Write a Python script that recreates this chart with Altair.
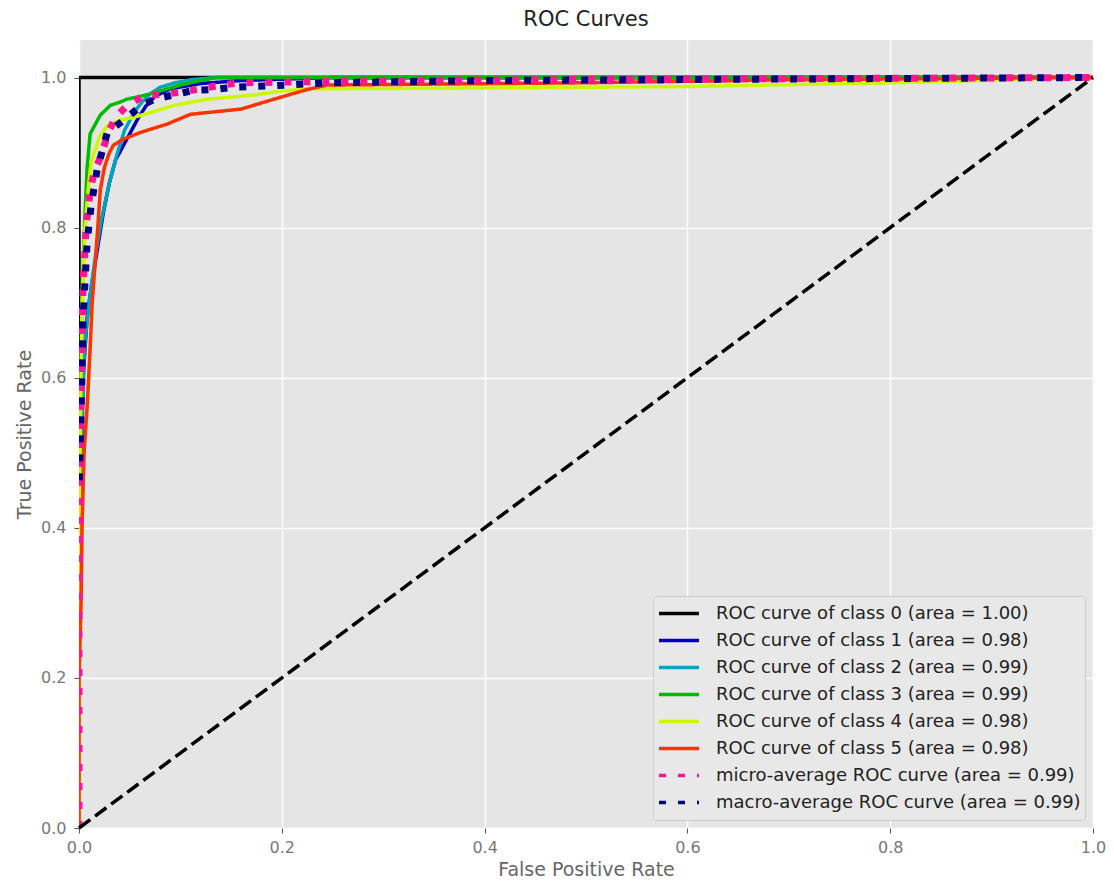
import altair as alt
import pandas as pd

labels = [
    "ROC curve of class 0 (area = 1.00)",
    "ROC curve of class 1 (area = 0.98)",
    "ROC curve of class 2 (area = 0.99)",
    "ROC curve of class 3 (area = 0.99)",
    "ROC curve of class 4 (area = 0.98)",
    "ROC curve of class 5 (area = 0.98)",
    "micro-average ROC curve (area = 0.99)",
    "macro-average ROC curve (area = 0.99)",
]
colors = ["#000000", "#0000BB", "#00A4BB", "#00BB00", "#CCF900", "#FF3300", "#FF1493", "#000080"]

c0_fpr = [0.0, 0.0, 1.0]
c0_tpr = [0.0, 1.0, 1.0]

c1_fpr = [0.0, 0.0, 0.002, 0.004, 0.008, 0.012, 0.018, 0.024, 0.03, 0.036, 0.044, 0.05, 0.058, 0.066, 0.075, 0.09, 0.12, 0.16, 0.25, 1.0]
c1_tpr = [0.0, 0.2, 0.45, 0.6, 0.68, 0.72, 0.77, 0.82, 0.86, 0.89, 0.91, 0.925, 0.945, 0.962, 0.975, 0.985, 0.992, 0.996, 1.0, 1.0]

c2_fpr = [0.0, 0.0, 0.003, 0.006, 0.01, 0.016, 0.022, 0.03, 0.038, 0.045, 0.055, 0.062, 0.07, 0.08, 0.095, 0.11, 0.135, 1.0]
c2_tpr = [0.0, 0.3, 0.55, 0.65, 0.70, 0.76, 0.81, 0.86, 0.9, 0.93, 0.955, 0.967, 0.978, 0.987, 0.993, 0.997, 1.0, 1.0]

c3_fpr = [0.0, 0.0, 0.003, 0.006, 0.008, 0.011, 0.015, 0.021, 0.031, 0.04, 0.047, 0.064, 0.08, 0.1, 0.12, 0.136, 1.0]
c3_tpr = [0.0, 0.4, 0.7, 0.82, 0.88, 0.925, 0.935, 0.95, 0.963, 0.967, 0.971, 0.976, 0.982, 0.99, 0.996, 1.0, 1.0]

c4_fpr = [0.0, 0.0, 0.003, 0.006, 0.009, 0.012, 0.02, 0.028, 0.04, 0.054, 0.075, 0.094, 0.126, 0.175, 0.2, 0.225, 0.4, 0.6, 0.8, 1.0]
c4_tpr = [0.0, 0.4, 0.7, 0.8, 0.85, 0.887, 0.92, 0.936, 0.943, 0.947, 0.955, 0.963, 0.971, 0.977, 0.982, 0.985, 0.986, 0.988, 0.993, 1.0]

c5_fpr = [0.0, 0.0, 0.002, 0.003, 0.005, 0.008, 0.011, 0.013, 0.018, 0.021, 0.025, 0.03, 0.034, 0.044, 0.061, 0.087, 0.11, 0.16, 0.192, 0.225, 0.245, 0.5, 0.7, 1.0]
c5_tpr = [0.0, 0.2, 0.3, 0.4, 0.5, 0.56, 0.64, 0.70, 0.79, 0.85, 0.88, 0.9, 0.91, 0.918, 0.927, 0.938, 0.951, 0.958, 0.971, 0.984, 0.99, 0.993, 0.997, 1.0]

micro_fpr = [0.0, 0.0, 0.002, 0.004, 0.007, 0.011, 0.015, 0.02, 0.025, 0.03, 0.036, 0.047, 0.064, 0.084, 0.103, 0.14, 0.16, 0.3, 0.6, 1.0]
micro_tpr = [0.0, 0.3, 0.6, 0.72, 0.8, 0.85, 0.874, 0.89, 0.91, 0.93, 0.947, 0.962, 0.976, 0.978, 0.981, 0.99, 0.993, 0.996, 0.998, 1.0]

macro_fpr = [0.0, 0.002, 0.004, 0.008, 0.012, 0.018, 0.028, 0.044, 0.061, 0.074, 0.094, 0.113, 0.133, 0.153, 0.192, 0.244, 0.4, 0.7, 1.0]
macro_tpr = [0.45, 0.55, 0.68, 0.78, 0.83, 0.878, 0.927, 0.943, 0.962, 0.971, 0.977, 0.983, 0.984, 0.987, 0.989, 0.993, 0.996, 0.998, 1.0]

diag_fpr = [0.0, 1.0]
diag_tpr = [0.0, 1.0]

series = [
    (c0_fpr, c0_tpr), (c1_fpr, c1_tpr), (c2_fpr, c2_tpr), (c3_fpr, c3_tpr),
    (c4_fpr, c4_tpr), (c5_fpr, c5_tpr), (micro_fpr, micro_tpr), (macro_fpr, macro_tpr),
]

rows = []
for k, (lab, (fx, ty)) in enumerate(zip(labels, series)):
    for i, (a, b) in enumerate(zip(fx, ty)):
        rows.append({"series": lab, "fpr": a, "tpr": b, "idx": i, "k": k})
df = pd.DataFrame(rows)
diag = pd.DataFrame({"fpr": diag_fpr, "tpr": diag_tpr})

xscale = alt.Scale(domain=[0, 1], nice=False, zero=False)
yscale = alt.Scale(domain=[0, 1.05], nice=False, zero=False)
tick_vals = [0.0, 0.2, 0.4, 0.6, 0.8, 1.0]

x_enc = alt.X("fpr:Q", scale=xscale, title="False Positive Rate",
              axis=alt.Axis(values=tick_vals, format=".1f", labelFlush=False))
y_enc = alt.Y("tpr:Q", scale=yscale, title="True Positive Rate",
              axis=alt.Axis(values=tick_vals, format=".1f", labelFlush=False))

dash_range = [[1, 0]] * 6 + [[7, 12], [7, 12]]

color_enc = alt.Color("series:N", scale=alt.Scale(domain=labels, range=colors),
                      legend=alt.Legend(title=None))
dash_enc = alt.StrokeDash("series:N", scale=alt.Scale(domain=labels, range=dash_range),
                          legend=alt.Legend(title=None))

base = alt.Chart(df)

solid = base.transform_filter(alt.datum.k < 6).mark_line(
    strokeWidth=3.5, clip=True).encode(
    x=x_enc, y=y_enc, color=color_enc, strokeDash=dash_enc, order=alt.Order("idx:Q"),
)

micro = base.transform_filter(alt.datum.k == 6).mark_line(
    strokeWidth=7, strokeCap="butt", clip=True).encode(
    x=x_enc, y=y_enc, color=color_enc, strokeDash=dash_enc, order=alt.Order("idx:Q"),
)

macro = base.transform_filter(alt.datum.k == 7).mark_line(
    strokeWidth=7, strokeCap="butt", strokeDashOffset=9, clip=True).encode(
    x=x_enc, y=y_enc, color=color_enc, strokeDash=dash_enc, order=alt.Order("idx:Q"),
)

diag_line = alt.Chart(diag).mark_line(color="black", strokeWidth=3.5, strokeDash=[14, 6],
                                      strokeCap="butt").encode(
    x=alt.X("fpr:Q", scale=xscale),
    y=alt.Y("tpr:Q", scale=yscale),
)

chart = alt.layer(solid, micro, macro, diag_line).properties(
    width=1014,
    height=788,
    autosize=alt.AutoSizeParams(type="none"),
    padding={"left": 71, "top": 32, "right": 13, "bottom": 50},
    title=alt.TitleParams("ROC Curves", fontSize=21, font="DejaVu Sans", fontWeight="normal",
                          color="#222222", anchor="middle", offset=10),
).configure_view(
    fill="#E5E5E5", stroke=None,
).configure_axis(
    domain=False,
    grid=True, gridColor="#FFFFFF", gridWidth=1.5,
    tickColor="#555555", tickSize=5, tickWidth=1,
    labelFont="DejaVu Sans", labelFontSize=16, labelColor="#777777", labelPadding=6,
    titleFont="DejaVu Sans", titleFontSize=19, titleColor="#666666", titleFontWeight="normal",
).configure_axisX(
    titlePadding=5,
).configure_axisY(
    titlePadding=6, labelPadding=8,
).configure_legend(
    orient="bottom-right", offset=8,
    fillColor="#E8E8E8", strokeColor="#CCCCCC", cornerRadius=3, padding=4,
    labelFont="DejaVu Sans", labelFontSize=18, labelColor="#222222", labelLimit=600,
    labelOffset=15, symbolType="stroke", symbolSize=1600, clipHeight=27, rowPadding=0,
    symbolStrokeWidth=3.5,
)

chart.save("out.html", embed_options={"renderer": "svg", "actions": False})
